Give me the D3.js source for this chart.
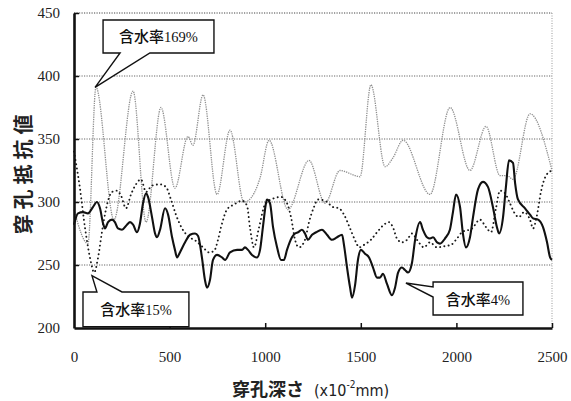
<!DOCTYPE html>
<html>
<head>
<meta charset="utf-8">
<script src="https://cdn.jsdelivr.net/npm/d3@7/dist/d3.min.js"></script>
<style>
  body { margin: 0; background: #fff; }
  svg { display: block; }
</style>
</head>
<body>
<svg id="chart" width="571" height="401"></svg>
<script>
    // depth (x10^-2 mm), resistance value
    const water169 = [[0,294],[73,267],[115,391],[209,286],[309,388],[377,284],[455,375],[528,311],[596,352],[622,345],[675,385],[748,306],[816,357],[889,300],[910,301],[973,319],[1020,349],[1119,294],[1229,333],[1313,299],[1391,325],[1470,321],[1496,320],[1553,393],[1627,328],[1668,335],[1721,349],[1862,306],[1967,375],[2071,325],[2155,360],[2228,321],[2265,321],[2296,318],[2385,370],[2500,325]];

    const water15 = [[0,340],[31,311],[58,279],[89,252],[105,244],[126,256],[146,276],[167,294],[199,308],[225,309],[246,305],[272,295],[298,306],[324,314],[350,318],[377,308],[408,313],[450,314],[481,312],[507,302],[533,290],[565,279],[596,273],[638,269],[675,264],[706,260],[732,261],[753,270],[769,280],[800,294],[837,298],[879,301],[905,297],[921,279],[941,264],[968,280],[999,298],[1046,303],[1083,304],[1114,299],[1135,288],[1156,270],[1177,264],[1208,270],[1229,284],[1255,296],[1276,302],[1313,301],[1355,296],[1386,295],[1412,290],[1444,279],[1475,268],[1491,264],[1517,266],[1553,270],[1585,276],[1621,282],[1647,284],[1668,280],[1689,271],[1715,268],[1742,270],[1768,275],[1794,270],[1830,264],[1862,268],[1898,264],[1940,265],[1972,266],[2003,271],[2029,276],[2082,279],[2123,286],[2155,280],[2181,276],[2207,295],[2228,309],[2254,307],[2280,299],[2301,292],[2327,288],[2354,292],[2385,286],[2401,279],[2422,290],[2442,308],[2469,321],[2500,325]];

    const water4 = [[0,282],[21,291],[47,292],[73,291],[99,296],[120,300],[136,295],[152,283],[162,279],[178,284],[199,286],[214,284],[230,279],[251,278],[277,282],[293,284],[309,282],[329,276],[345,283],[361,299],[377,307],[387,304],[408,288],[424,275],[434,272],[450,278],[476,295],[492,290],[513,272],[528,262],[539,256],[554,260],[581,268],[607,274],[633,275],[649,273],[669,256],[685,238],[696,232],[711,238],[727,254],[748,258],[774,256],[790,254],[816,260],[853,262],[879,262],[894,264],[910,262],[931,258],[957,256],[973,262],[988,280],[1004,299],[1009,302],[1025,299],[1041,280],[1062,264],[1083,254],[1098,254],[1114,262],[1140,272],[1156,275],[1172,276],[1192,278],[1208,275],[1224,270],[1245,274],[1266,276],[1297,278],[1323,274],[1349,270],[1376,272],[1402,274],[1412,266],[1428,248],[1444,232],[1454,224],[1470,234],[1485,254],[1501,262],[1522,259],[1543,256],[1564,248],[1585,240],[1600,240],[1616,243],[1637,235],[1663,226],[1679,232],[1695,244],[1715,248],[1731,246],[1747,244],[1768,252],[1784,270],[1810,284],[1825,278],[1846,272],[1862,271],[1878,272],[1899,268],[1914,267],[1940,271],[1966,278],[1982,292],[1998,306],[2019,296],[2034,275],[2050,264],[2071,272],[2087,288],[2113,310],[2139,316],[2165,312],[2191,296],[2212,280],[2223,275],[2244,288],[2259,312],[2275,333],[2296,331],[2307,315],[2322,302],[2359,295],[2385,290],[2401,287],[2427,286],[2453,280],[2474,268],[2490,256],[2500,254]];

    const xTicks = [0, 500, 1000, 1500, 2000, 2500];
    const yTicks = [200, 250, 300, 350, 400, 450];
    const yGrid = [250, 300, 350, 400, 450];

    const svg = d3.select("#chart");
    const serif = "Liberation Serif";
    const cjk = "Noto Sans CJK JP";

    const x = d3.scaleLinear().domain([0, 2500]).range([74, 552]);
    const y = d3.scaleLinear().domain([200, 450]).range([328, 13]);

    // grid
    svg.append("g")
        .selectAll("line")
        .data(yGrid)
        .join("line")
            .attr("x1", x(0))
            .attr("x2", x(2500))
            .attr("y1", d => y(d))
            .attr("y2", d => y(d))
            .style("stroke", d => d === 450 ? "#444" : "#666")
            .style("stroke-width", 1)
            .style("stroke-dasharray", "1.2 1.3")

    svg.append("line")
        .attr("x1", x(2500)).attr("x2", x(2500))
        .attr("y1", y(450)).attr("y2", y(200))
        .style("stroke", "#999")
        .style("stroke-width", 1)
        .style("stroke-dasharray", "1 1.5")

    const line = d3.line()
        .x(d => x(d[0]))
        .y(d => y(d[1]))
        .curve(d3.curveMonotoneX)

    svg.append("path")
        .attr("d", line(water169))
        .style("fill", "none")
        .style("stroke", "#8f8f8f")
        .style("stroke-width", 1.3)
        .style("stroke-dasharray", "1.3 1")

    svg.append("path")
        .attr("d", line(water15))
        .style("fill", "none")
        .style("stroke", "#1a1a1a")
        .style("stroke-width", 1.9)
        .style("stroke-linecap", "round")
        .style("stroke-dasharray", "0.1 4.2")

    svg.append("path")
        .attr("d", line(water4))
        .style("fill", "none")
        .style("stroke", "#111")
        .style("stroke-width", 2.1)
        .style("stroke-linejoin", "round")

    // axes
    const fmt = d3.format("d");
    const yAxis = svg.append("g")
        .attr("transform", `translate(${x(0)},0)`)
        .call(d3.axisLeft(y).tickValues(yTicks).tickFormat(fmt).tickSize(-5).tickSizeOuter(0).tickPadding(14))
    const xAxis = svg.append("g")
        .attr("transform", `translate(0,${y(200)})`)
        .call(d3.axisBottom(x).tickValues(xTicks).tickFormat(fmt).tickSize(-5).tickSizeOuter(0).tickPadding(23))

    for (const g of [yAxis, xAxis]) {
        g.attr("font-family", serif).attr("font-size", 15)
        g.select(".domain").style("stroke", "#111").style("stroke-width", 2.6)
        g.selectAll(".tick line").style("stroke", "#111").style("stroke-width", 1.5)
        g.selectAll(".tick text").style("fill", "#222")
    }
    yAxis.selectAll(".tick").filter(d => d === 200).select("line").remove()
    xAxis.selectAll(".tick").filter(d => d === 0).select("line").remove()

    // axis titles
    svg.append("text")
        .attr("transform", "translate(31,172) rotate(-90)")
        .attr("text-anchor", "middle")
        .attr("font-family", cjk)
        .attr("font-size", 20)
        .attr("font-weight", "bold")
        .style("letter-spacing", "5px")
        .style("fill", "#222")
        .text("穿孔抵抗値")

    const xt = svg.append("text")
        .attr("x", 232)
        .attr("y", 396)
        .style("fill", "#222")
    xt.append("tspan").attr("font-family", cjk).attr("font-size", 18).attr("font-weight", "bold").text("穿孔深さ")
    xt.append("tspan").attr("font-family", "DejaVu Sans Condensed").attr("font-size", 16).attr("dx", 10).text("(x10")
    xt.append("tspan").attr("font-family", "DejaVu Sans Condensed").attr("font-size", 10).attr("dy", -8).text("-2")
    xt.append("tspan").attr("font-family", "DejaVu Sans Condensed").attr("font-size", 16).attr("dy", 8).text("mm)")

    // callouts, positioned in data units
    function callout(box, tip, tailA, tailB, side, pct) {
        const [d0, v0, d1, v1] = box;
        const bx0 = x(d0), bx1 = x(d1), by0 = y(v0), by1 = y(v1);
        let pts;
        if (side === "bottom") {
            pts = [[bx0, by0], [bx1, by0], [bx1, by1], [x(tailB), by1], [x(tip[0]), y(tip[1])], [x(tailA), by1], [bx0, by1]];
        } else if (side === "top") {
            pts = [[bx0, by0], [x(tailA), by0], [x(tip[0]), y(tip[1])], [x(tailB), by0], [bx1, by0], [bx1, by1], [bx0, by1]];
        } else {
            pts = [[bx0, by0], [bx1, by0], [bx1, by1], [bx0, by1], [bx0, y(tailB)], [x(tip[0]), y(tip[1])], [bx0, y(tailA)]];
        }
        svg.append("path")
            .attr("d", d3.line()(pts) + "Z")
            .style("fill", "#fff")
            .style("stroke", "#111")
            .style("stroke-width", 1.4)
            .style("stroke-linejoin", "miter")
        const t = svg.append("text")
            .attr("x", (bx0 + bx1) / 2)
            .attr("y", (by0 + by1) / 2 + 6)
            .attr("text-anchor", "middle")
            .style("fill", "#111")
        t.append("tspan").attr("font-family", cjk).attr("font-size", 15).attr("font-weight", 500).text("含水率")
        t.append("tspan").attr("font-family", serif).attr("font-size", 14.5).text(pct)
    }

    callout([152, 444.4, 732, 418.3], [110, 391], 241, 397, "bottom", "169%")
    callout([47, 228.6, 601, 201], [94, 241.5], 120, 251, "top", "15%")
    callout([1878, 236.5, 2348, 210.3], [1736, 235.7], 232.5, 224.6, "left", "4%")
</script>
</body>
</html>
